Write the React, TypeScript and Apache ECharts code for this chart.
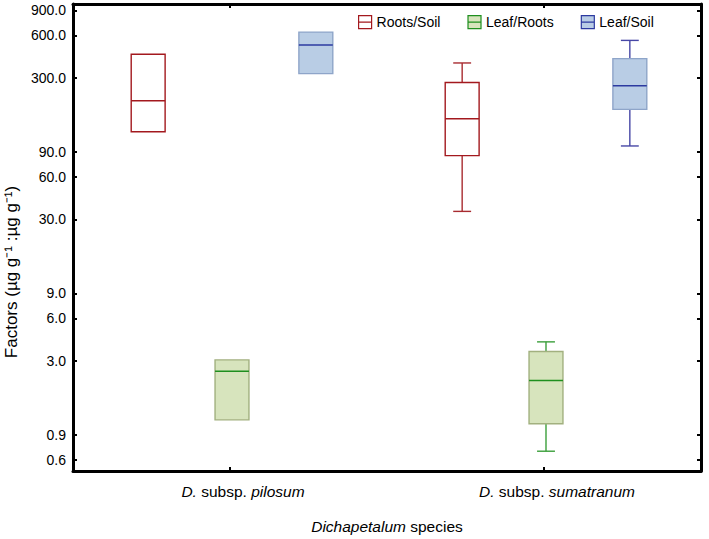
import React, { useEffect, useRef } from "react";
import * as echarts from "echarts";

// Categories (subspecies epithets)
const categories = ["pilosum", "sumatranum"];

// Box statistics per category: [min, Q1, median, Q3, max]
const rootsSoil = [
  [125, 125, 207, 441, 441],
  [34.2, 84.8, 154.5, 279, 383],
];
const leafRoots = [
  [1.15, 1.15, 2.54, 3.05, 3.05],
  [0.69, 1.08, 2.18, 3.5, 4.09],
];
const leafSoil = [
  [322, 322, 513, 633, 633],
  [99.2, 180, 264, 411, 553],
];

// Y axis tick labels
const yTicks = [0.6, 0.9, 3, 6, 9, 30, 60, 90, 300, 600, 900];

const FONT = "'Liberation Sans', Arial, sans-serif";

const seriesStyles = [
  { name: "Roots/Soil", fill: "#ffffff", border: "#a3191e", median: "#a3191e", whisker: "#a82b30" },
  { name: "Leaf/Roots", fill: "#d7e4bd", border: "#a2b07f", median: "#1f8f1f", whisker: "#3b9f3b" },
  { name: "Leaf/Soil", fill: "#b9cde5", border: "#8ea5c9", median: "#2c3aa0", whisker: "#4747a6" },
];

const OFFSETS = [-0.267, 0, 0.267];
const BOX_W = 0.108;
const CAP_W = 0.057;

function makeRender(si: number) {
  const st = seriesStyles[si];
  return (params: any, api: any) => {
    const cat = api.value(0);
    const vMin = api.value(1);
    const vQ1 = api.value(2);
    const vMed = api.value(3);
    const vQ3 = api.value(4);
    const vMax = api.value(5);
    const band = api.coord([1, vMed])[0] - api.coord([0, vMed])[0];
    const cx = api.coord([cat, vMed])[0] + OFFSETS[si] * band + 2;
    const bw = BOX_W * band;
    const cw = CAP_W * band;
    const yMin = api.coord([cat, vMin])[1];
    const yQ1 = api.coord([cat, vQ1])[1];
    const yMed = api.coord([cat, vMed])[1];
    const yQ3 = api.coord([cat, vQ3])[1];
    const yMax = api.coord([cat, vMax])[1];
    const lineStyle = { stroke: st.whisker, lineWidth: 1.4 };
    const children: any[] = [];
    if (vMax > vQ3) {
      children.push({ type: "line", shape: { x1: cx, y1: yMax, x2: cx, y2: yQ3 }, style: lineStyle });
      children.push({ type: "line", shape: { x1: cx - cw / 2, y1: yMax, x2: cx + cw / 2, y2: yMax }, style: lineStyle });
    }
    if (vMin < vQ1) {
      children.push({ type: "line", shape: { x1: cx, y1: yQ1, x2: cx, y2: yMin }, style: lineStyle });
      children.push({ type: "line", shape: { x1: cx - cw / 2, y1: yMin, x2: cx + cw / 2, y2: yMin }, style: lineStyle });
    }
    children.push({
      type: "rect",
      shape: { x: cx - bw / 2, y: yQ3, width: bw, height: yQ1 - yQ3 },
      style: { fill: st.fill, stroke: st.border, lineWidth: 1.4 },
    });
    children.push({
      type: "line",
      shape: { x1: cx - bw / 2, y1: yMed, x2: cx + bw / 2, y2: yMed },
      style: { stroke: st.median, lineWidth: 1.5 },
    });
    return { type: "group", children };
  };
}

const allSeries = [rootsSoil, leafRoots, leafSoil];

export default function App() {
  const ref = useRef<HTMLDivElement>(null);
  useEffect(() => {
    if (!ref.current) return;
    const chart = echarts.init(ref.current, undefined, { renderer: "svg" });
    const iconPath = "path://M0,0H20V20H0Z M0,10H20";
    const italic = { fontStyle: "italic", fontSize: 15.5, color: "#000", fontFamily: FONT };
    const option: any = {
      animation: false,
      backgroundColor: "#ffffff",
      textStyle: { fontFamily: FONT },
      grid: { left: 73, right: 8, top: 4, bottom: 67 },
      legend: {
        left: 353,
        top: 10,
        itemWidth: 13,
        itemHeight: 13,
        itemGap: 27,
        textStyle: { fontSize: 14, color: "#000", fontFamily: FONT },
        data: seriesStyles.map((s) => ({
          name: s.name,
          icon: iconPath,
          itemStyle: { color: s.fill, borderColor: s.median, borderWidth: 1.2 },
        })),
        selectedMode: false,
      },
      xAxis: [
        {
          type: "category",
          data: categories,
          position: "bottom",
          axisLine: { lineStyle: { color: "#000", width: 3 } },
          axisTick: { show: true, inside: true, alignWithLabel: true, length: 4, lineStyle: { color: "#000", width: 2 } },
          axisLabel: {
            margin: 12,
            fontSize: 15.5,
            color: "#000",
            fontFamily: FONT,
            padding: [0, 0, 0, 26],
            formatter: (v: string) => `{i|D.} subsp. {i|${v}}`,
            rich: { i: italic },
          },
          splitLine: { show: false },
          name: "{i|Dichapetalum} species",
          nameLocation: "middle",
          nameGap: 47,
          nameTextStyle: {
            fontSize: 15.5,
            color: "#000",
            fontFamily: FONT,
            rich: { i: italic },
          },
        },
        {
          type: "category",
          data: categories,
          position: "top",
          axisLine: { lineStyle: { color: "#000", width: 3 } },
          axisTick: { show: true, inside: true, alignWithLabel: true, length: 4, lineStyle: { color: "#000", width: 2 } },
          axisLabel: { show: false },
          splitLine: { show: false },
        },
      ],
      yAxis: [
        {
          type: "log",
          logBase: 10,
          min: 0.5,
          max: 1000,
          position: "left",
          axisLine: { show: true, lineStyle: { color: "#000", width: 3 } },
          axisTick: { show: true, inside: true, length: 4, customValues: yTicks, lineStyle: { color: "#000", width: 2 } },
          axisLabel: {
            customValues: yTicks,
            margin: 7,
            fontSize: 14,
            color: "#000",
            fontFamily: FONT,
            formatter: (v: number) => Number(v).toFixed(1),
          },
          splitLine: { show: false },
          minorTick: { show: false },
        },
        {
          type: "log",
          logBase: 10,
          min: 0.5,
          max: 1000,
          position: "right",
          axisLine: { show: true, lineStyle: { color: "#000", width: 3 } },
          axisTick: { show: true, inside: true, length: 4, customValues: yTicks, lineStyle: { color: "#000", width: 2 } },
          axisLabel: { show: false },
          splitLine: { show: false },
        },
      ],
      graphic: [
        {
          type: "text",
          x: 11,
          y: 272,
          rotation: Math.PI / 2,
          style: {
            text: "Factors (µg g⁻¹ :µg g⁻¹)",
            fontSize: 17,
            fontFamily: FONT,
            fill: "#000",
            align: "center",
            verticalAlign: "middle",
          },
        },
      ],
      series: allSeries.map((stats, si) => ({
        type: "custom",
        name: seriesStyles[si].name,
        xAxisIndex: 0,
        yAxisIndex: 0,
        itemStyle: { color: seriesStyles[si].fill, borderColor: seriesStyles[si].median },
        encode: { x: 0, y: [1, 2, 3, 4, 5] },
        data: stats.map((s, ci) => [ci, ...s]),
        renderItem: makeRender(si),
      })),
    };
    chart.setOption(option);
    return () => chart.dispose();
  }, []);
  return <div ref={ref} style={{ position: "absolute", left: 0, top: 0, width: 709, height: 539 }} />;
}
